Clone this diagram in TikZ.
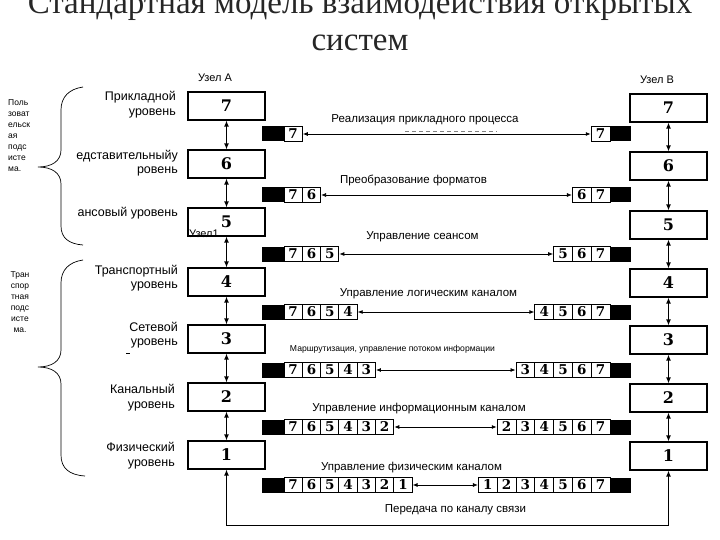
\documentclass[tikz,border=0pt]{standalone}
\usepackage{fontspec}
\setmainfont{Liberation Serif}
\setsansfont{Liberation Sans}
\newfontfamily\digfont{DejaVu Serif}
\usetikzlibrary{arrows.meta}
\begin{document}
\begin{tikzpicture}[x=1pt,y=-1pt,
  layerbox/.style={draw, line width=1.1pt, fill=white, minimum width=77pt, minimum height=28pt, inner sep=0pt,
    text height=11.7pt, text depth=0pt,
    font=\digfont\bfseries\fontsize{16}{16}\selectfont},
  cellL/.style={draw, line width=0.9pt, fill=white, minimum width=18.3pt, minimum height=15pt, inner sep=0pt,
    text height=9.9pt, text depth=0pt,
    font=\digfont\bfseries\fontsize{13.5}{13.5}\selectfont},
  cellR/.style={cellL, minimum width=18.8pt},
  bar/.style={fill=black, minimum height=15pt, inner sep=0pt},
  harr/.style={{Latex[length=5pt,width=4pt]}-{Latex[length=5pt,width=4pt]}, line width=0.8pt},
  varr/.style={{Latex[length=6pt,width=5pt]}-{Latex[length=6pt,width=5pt]}, line width=1.3pt},
  lvl/.style={font=\sffamily\fontsize{12.5}{14.5}\selectfont, align=right, anchor=east, inner sep=0pt},
  desc/.style={font=\sffamily\fontsize{11.5}{13}\selectfont, inner sep=0pt},
  small/.style={font=\sffamily\fontsize{8.5}{11}\selectfont, inner sep=0pt},
  brace/.style={line width=0.7pt}
]
\useasboundingbox (0,0) rectangle (720,540);

% title
\node[anchor=base, font=\fontsize{33}{37}\selectfont, inner sep=0pt, text=black!85] (t1) at (360,14) {Стандартная модель взаимодействия открытых};
\node[anchor=base, font=\fontsize{33}{37}\selectfont, inner sep=0pt, text=black!85] (t2) at (360,51) {систем};

% node labels
\node[font=\sffamily\fontsize{11}{13}\selectfont, inner sep=0pt] (ua) at (215,78) {Узел А};
\node[font=\sffamily\fontsize{11}{13}\selectfont, inner sep=0pt] (ub) at (657,80) {Узел В};

% layer boxes
\foreach \k/\ya/\yb in {7/106/108,6/164/166,5/222/225,4/282/283,3/339/340,2/397/398,1/455/456}{
  \node[layerbox] (A\k) at (226.5,\ya) {\k};
  \node[layerbox] (B\k) at (668.5,\yb) {\k};
}
\node[font=\sffamily\fontsize{11}{13}\selectfont, inner sep=0pt, anchor=west] (u1) at (189,234) {Узел1};

% vertical arrows
\foreach \k/\m in {7/6,6/5,5/4,4/3,3/2,2/1}{
  \draw[varr] (A\k.south) -- (A\m.north);
  \draw[varr] (B\k.south) -- (B\m.north);
}
\draw[varr] (A1.south) -- ++(0,56) -| (B1.south);

% PDU rows
\foreach \k/\y in {7/134,6/195,5/254,4/312,3/370,2/427,1/485}{
  \pgfmathtruncatemacro{\n}{8-\k}
  \node[bar, minimum width=22pt] (Lbar\k) at (273,\y) {};
  \node[bar, minimum width=21pt] (Rbar\k) at (620.5,\y) {};
  \foreach \i in {1,...,\n}{
    \pgfmathtruncatemacro{\d}{8-\i}
    \pgfmathsetmacro{\xx}{284+18.3*(\i-0.5)}
    \node[cellL] (L\k-\i) at (\xx,\y) {\d};
    \pgfmathtruncatemacro{\e}{\k+\i-1}
    \pgfmathsetmacro{\xr}{610-18.8*(\n-\i+0.5)}
    \node[cellR] (R\k-\i) at (\xr,\y) {\e};
  }
  \draw[harr] (L\k-\n.east) -- (R\k-1.west);
}

% row descriptions
\node[desc] (d7) at (425,120) {Реализация прикладного процесса};
\draw[gray, line width=0.6pt, dash pattern=on 4pt off 3pt] (405,131) -- (497,131);
\node[desc] (d6) at (413.5,180) {Преобразование форматов};
\node[desc] (d5) at (422.5,237) {Управление сеансом};
\node[desc] (d4) at (428.5,294) {Управление логическим каналом};
\node[font=\sffamily\fontsize{8.6}{10}\selectfont, inner sep=0pt] (d3) at (392.5,349) {Маршрутизация, управление потоком информации};
\node[desc] (d2) at (419,409) {Управление информационным каналом};
\node[desc] (d1) at (411.5,468) {Управление физическим каналом};
\node[desc] (d0) at (455.5,510) {Передача по каналу связи};

% level names
\node[lvl] (n7) at (176,104.5) {Прикладной\\уровень};
\node[lvl] (n6) at (178,163) {едставительныйу\\ровень};
\node[lvl] (n5) at (178,213) {ансовый уровень};
\node[lvl] (n4) at (178,278) {Транспортный\\уровень};
\node[lvl] (n3) at (178,335) {Сетевой\\уровень};
\node[lvl] (n2) at (175,397.5) {Канальный\\уровень};
\node[lvl] (n1) at (175,455.5) {Физический\\уровень};
\draw[line width=0.5pt] (126,353) -- (130,353);

% subsystems
\node[small, align=left, anchor=north west] (s1) at (8,99) {Поль\\зоват\\ельск\\ая\\подс\\исте\\ма.};
\node[small, align=center, anchor=north] (s2) at (20,271) {Тран\\спор\\тная\\подс\\исте\\ма.};

% braces
\draw[brace] (83,87) .. controls (69,89) and (61,97) .. (61,110) -- (61,150)
  .. controls (61,161) and (52,167) .. (38,167)
  .. controls (52,167) and (61,173) .. (61,184) -- (61,226)
  .. controls (61,238) and (69,244) .. (83,245);
\draw[brace] (83,260) .. controls (69,262) and (61,270) .. (61,283) -- (61,350)
  .. controls (61,361) and (52,367) .. (38,367)
  .. controls (52,367) and (61,373) .. (61,384) -- (61,455)
  .. controls (61,468) and (69,475) .. (85,476);
\end{tikzpicture}
\end{document}
